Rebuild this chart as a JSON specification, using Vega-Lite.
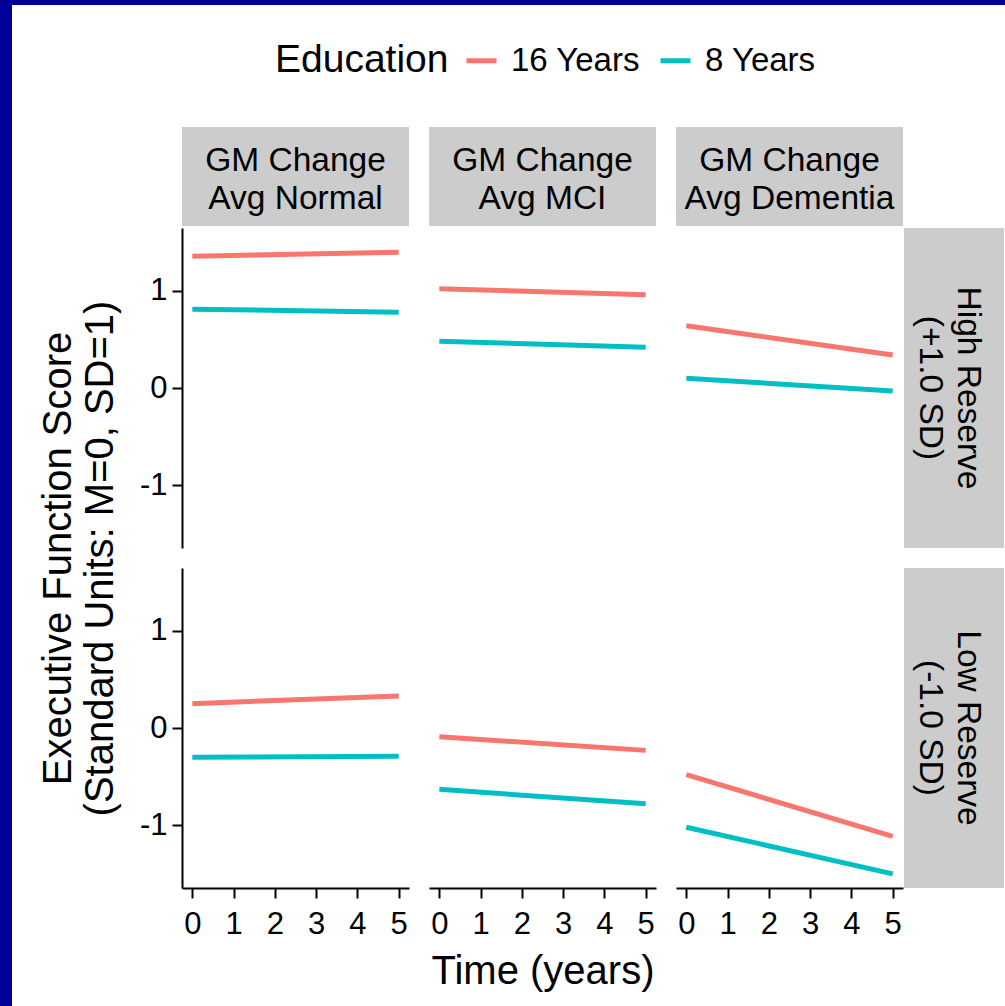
{
  "$schema": "https://vega.github.io/schema/vega-lite/v6.json",
  "padding": 0,
  "background": "white",
  "config": {
    "font": "Liberation Sans",
    "view": {"stroke": null},
    "axis": {"domainColor": "black", "domainWidth": 2, "tickColor": "black", "tickWidth": 2, "tickSize": 10, "labelFontSize": 31, "labelColor": "black", "titleFontSize": 40, "titleFontWeight": "normal", "titleColor": "black", "grid": false, "labelFont": "Liberation Sans", "titleFont": "Liberation Sans"},
    "axisX": {"labelPadding": 11},
    "axisY": {"labelPadding": 5},
    "legend": {"orient": "none", "legendX": 275, "legendY": 43, "direction": "horizontal", "titleOrient": "left", "titleFontSize": 39, "titleFontWeight": "normal", "titleColor": "black", "titleBaseline": "middle", "labelFontSize": 33, "labelColor": "black", "symbolType": "stroke", "symbolStrokeWidth": 5, "symbolSize": 900, "titlePadding": 15, "labelOffset": 12, "columnPadding": 9, "titleFont": "Liberation Sans", "labelFont": "Liberation Sans"}
  },
  "datasets": {
    "lines": [
      {"gm": "Normal", "res": "High", "edu": "16 Years", "t": 0, "v": 1.355},
      {"gm": "Normal", "res": "High", "edu": "16 Years", "t": 5, "v": 1.395},
      {"gm": "Normal", "res": "High", "edu": "8 Years", "t": 0, "v": 0.81},
      {"gm": "Normal", "res": "High", "edu": "8 Years", "t": 5, "v": 0.78},
      {"gm": "MCI", "res": "High", "edu": "16 Years", "t": 0, "v": 1.02},
      {"gm": "MCI", "res": "High", "edu": "16 Years", "t": 5, "v": 0.96},
      {"gm": "MCI", "res": "High", "edu": "8 Years", "t": 0, "v": 0.48},
      {"gm": "MCI", "res": "High", "edu": "8 Years", "t": 5, "v": 0.42},
      {"gm": "Dementia", "res": "High", "edu": "16 Years", "t": 0, "v": 0.64},
      {"gm": "Dementia", "res": "High", "edu": "16 Years", "t": 5, "v": 0.34},
      {"gm": "Dementia", "res": "High", "edu": "8 Years", "t": 0, "v": 0.10},
      {"gm": "Dementia", "res": "High", "edu": "8 Years", "t": 5, "v": -0.03},
      {"gm": "Normal", "res": "Low", "edu": "16 Years", "t": 0, "v": 0.25},
      {"gm": "Normal", "res": "Low", "edu": "16 Years", "t": 5, "v": 0.33},
      {"gm": "Normal", "res": "Low", "edu": "8 Years", "t": 0, "v": -0.30},
      {"gm": "Normal", "res": "Low", "edu": "8 Years", "t": 5, "v": -0.29},
      {"gm": "MCI", "res": "Low", "edu": "16 Years", "t": 0, "v": -0.09},
      {"gm": "MCI", "res": "Low", "edu": "16 Years", "t": 5, "v": -0.23},
      {"gm": "MCI", "res": "Low", "edu": "8 Years", "t": 0, "v": -0.63},
      {"gm": "MCI", "res": "Low", "edu": "8 Years", "t": 5, "v": -0.78},
      {"gm": "Dementia", "res": "Low", "edu": "16 Years", "t": 0, "v": -0.48},
      {"gm": "Dementia", "res": "Low", "edu": "16 Years", "t": 5, "v": -1.115},
      {"gm": "Dementia", "res": "Low", "edu": "8 Years", "t": 0, "v": -1.02},
      {"gm": "Dementia", "res": "Low", "edu": "8 Years", "t": 5, "v": -1.50}
    ]
  },
  "spacing": 0,
  "vconcat": [
    {"width": 1005, "height": 5, "view": {"fill": "#000099"}, "data": {"values": []}, "mark": "point"},
    {
      "spacing": 0,
      "hconcat": [
        {"width": 12, "height": 1001, "view": {"fill": "#000099"}, "data": {"values": []}, "mark": "point"},
        {
          "spacing": 2,
          "vconcat": [
            {"width": 1, "height": 120, "data": {"values": []}, "mark": "point"},
            {
              "columns": 7,
              "spacing": {"row": 2, "column": 1},
              "bounds": "flush",
              "align": "each",
              "concat": [
                {"width": 169, "height": 1, "data": {"values": []}, "mark": "point"},
                {"width": 227, "height": 99, "view": {"fill": "#CCCCCC"}, "data": {"values": [{"label": "GM Change\nAvg Normal"}]}, "mark": {"type": "text", "lineBreak": "\n", "fontSize": 33.5, "lineHeight": 38, "dy": -16, "baseline": "middle", "align": "center", "color": "black"}, "encoding": {"text": {"field": "label"}}},
                {"width": 17.5, "height": 1, "data": {"values": []}, "mark": "point"},
                {"width": 227, "height": 99, "view": {"fill": "#CCCCCC"}, "data": {"values": [{"label": "GM Change\nAvg MCI"}]}, "mark": {"type": "text", "lineBreak": "\n", "fontSize": 33.5, "lineHeight": 38, "dy": -16, "baseline": "middle", "align": "center", "color": "black"}, "encoding": {"text": {"field": "label"}}},
                {"width": 17.5, "height": 1, "data": {"values": []}, "mark": "point"},
                {"width": 227, "height": 99, "view": {"fill": "#CCCCCC"}, "data": {"values": [{"label": "GM Change\nAvg Dementia"}]}, "mark": {"type": "text", "lineBreak": "\n", "fontSize": 33.5, "lineHeight": 38, "dy": -16, "baseline": "middle", "align": "center", "color": "black"}, "encoding": {"text": {"field": "label"}}},
                {"width": 1, "height": 1, "data": {"values": []}, "mark": "point"},

                {"width": 1, "height": 1, "data": {"values": []}, "mark": "point"},
                {
                  "width": 227, "height": 320,
                  "data": {"name": "lines"},
                  "transform": [{"filter": "datum.gm === 'Normal' && datum.res === 'High'"}],
                  "mark": {"type": "line", "strokeWidth": 5},
                  "encoding": {
                    "x": {"field": "t", "type": "quantitative", "scale": {"domain": [-0.25, 5.25], "nice": false, "zero": false}, "axis": null},
                    "y": {"field": "v", "type": "quantitative", "scale": {"domain": [-1.645, 1.645], "nice": false, "zero": false}, "axis": {"values": [-1, 0, 1], "labelExpr": "datum.value < 0 ? '-' + abs(datum.value) : '' + datum.value", "title": ["Executive Function Score", "(Standard Units: M=0, SD=1)"], "titleX": -124, "titleY": 330, "titleAngle": 270, "titleAlign": "center", "titleBaseline": "middle", "titleLineHeight": 42}},
                    "color": {"field": "edu", "type": "nominal", "title": "Education", "scale": {"domain": ["16 Years", "8 Years"], "range": ["#F8766D", "#00BFC4"]}}
                  }
                },
                {"width": 1, "height": 1, "data": {"values": []}, "mark": "point"},
                {
                  "width": 227, "height": 320,
                  "data": {"name": "lines"},
                  "transform": [{"filter": "datum.gm === 'MCI' && datum.res === 'High'"}],
                  "mark": {"type": "line", "strokeWidth": 5},
                  "encoding": {
                    "x": {"field": "t", "type": "quantitative", "scale": {"domain": [-0.25, 5.25], "nice": false, "zero": false}, "axis": null},
                    "y": {"field": "v", "type": "quantitative", "scale": {"domain": [-1.645, 1.645], "nice": false, "zero": false}, "axis": null},
                    "color": {"field": "edu", "type": "nominal", "title": "Education", "scale": {"domain": ["16 Years", "8 Years"], "range": ["#F8766D", "#00BFC4"]}}
                  }
                },
                {"width": 1, "height": 1, "data": {"values": []}, "mark": "point"},
                {
                  "width": 227, "height": 320,
                  "data": {"name": "lines"},
                  "transform": [{"filter": "datum.gm === 'Dementia' && datum.res === 'High'"}],
                  "mark": {"type": "line", "strokeWidth": 5},
                  "encoding": {
                    "x": {"field": "t", "type": "quantitative", "scale": {"domain": [-0.25, 5.25], "nice": false, "zero": false}, "axis": null},
                    "y": {"field": "v", "type": "quantitative", "scale": {"domain": [-1.645, 1.645], "nice": false, "zero": false}, "axis": null},
                    "color": {"field": "edu", "type": "nominal", "title": "Education", "scale": {"domain": ["16 Years", "8 Years"], "range": ["#F8766D", "#00BFC4"]}}
                  }
                },
                {"width": 100, "height": 320, "view": {"fill": "#CCCCCC"}, "data": {"values": [{"label": "High Reserve\n(+1.0 SD)"}]}, "mark": {"type": "text", "lineBreak": "\n", "fontSize": 33.5, "lineHeight": 38, "angle": 90, "dy": -14, "baseline": "middle", "align": "center", "color": "black"}, "encoding": {"text": {"field": "label"}}},

                {"width": 1, "height": 16, "data": {"values": []}, "mark": "point"},
                {"width": 1, "height": 1, "data": {"values": []}, "mark": "point"},
                {"width": 1, "height": 1, "data": {"values": []}, "mark": "point"},
                {"width": 1, "height": 1, "data": {"values": []}, "mark": "point"},
                {"width": 1, "height": 1, "data": {"values": []}, "mark": "point"},
                {"width": 1, "height": 1, "data": {"values": []}, "mark": "point"},
                {"width": 1, "height": 1, "data": {"values": []}, "mark": "point"},

                {"width": 1, "height": 1, "data": {"values": []}, "mark": "point"},
                {
                  "width": 227, "height": 320,
                  "data": {"name": "lines"},
                  "transform": [{"filter": "datum.gm === 'Normal' && datum.res === 'Low'"}],
                  "mark": {"type": "line", "strokeWidth": 5},
                  "encoding": {
                    "x": {"field": "t", "type": "quantitative", "scale": {"domain": [-0.25, 5.25], "nice": false, "zero": false}, "axis": {"values": [0, 1, 2, 3, 4, 5], "title": null}},
                    "y": {"field": "v", "type": "quantitative", "scale": {"domain": [-1.645, 1.645], "nice": false, "zero": false}, "axis": {"values": [-1, 0, 1], "labelExpr": "datum.value < 0 ? '-' + abs(datum.value) : '' + datum.value", "title": null}},
                    "color": {"field": "edu", "type": "nominal", "title": "Education", "scale": {"domain": ["16 Years", "8 Years"], "range": ["#F8766D", "#00BFC4"]}}
                  }
                },
                {"width": 1, "height": 1, "data": {"values": []}, "mark": "point"},
                {
                  "width": 227, "height": 320,
                  "data": {"name": "lines"},
                  "transform": [{"filter": "datum.gm === 'MCI' && datum.res === 'Low'"}],
                  "mark": {"type": "line", "strokeWidth": 5},
                  "encoding": {
                    "x": {"field": "t", "type": "quantitative", "scale": {"domain": [-0.25, 5.25], "nice": false, "zero": false}, "axis": {"values": [0, 1, 2, 3, 4, 5], "title": "Time (years)", "titleY": 95, "titleBaseline": "alphabetic"}},
                    "y": {"field": "v", "type": "quantitative", "scale": {"domain": [-1.645, 1.645], "nice": false, "zero": false}, "axis": null},
                    "color": {"field": "edu", "type": "nominal", "title": "Education", "scale": {"domain": ["16 Years", "8 Years"], "range": ["#F8766D", "#00BFC4"]}}
                  }
                },
                {"width": 1, "height": 1, "data": {"values": []}, "mark": "point"},
                {
                  "width": 227, "height": 320,
                  "data": {"name": "lines"},
                  "transform": [{"filter": "datum.gm === 'Dementia' && datum.res === 'Low'"}],
                  "mark": {"type": "line", "strokeWidth": 5},
                  "encoding": {
                    "x": {"field": "t", "type": "quantitative", "scale": {"domain": [-0.25, 5.25], "nice": false, "zero": false}, "axis": {"values": [0, 1, 2, 3, 4, 5], "title": null}},
                    "y": {"field": "v", "type": "quantitative", "scale": {"domain": [-1.645, 1.645], "nice": false, "zero": false}, "axis": null},
                    "color": {"field": "edu", "type": "nominal", "title": "Education", "scale": {"domain": ["16 Years", "8 Years"], "range": ["#F8766D", "#00BFC4"]}}
                  }
                },
                {"width": 100, "height": 320, "view": {"fill": "#CCCCCC"}, "data": {"values": [{"label": "Low Reserve\n(-1.0 SD)"}]}, "mark": {"type": "text", "lineBreak": "\n", "fontSize": 33.5, "lineHeight": 38, "angle": 90, "dy": -14, "baseline": "middle", "align": "center", "color": "black"}, "encoding": {"text": {"field": "label"}}}
              ]
            }
          ]
        }
      ]
    }
  ]
}
